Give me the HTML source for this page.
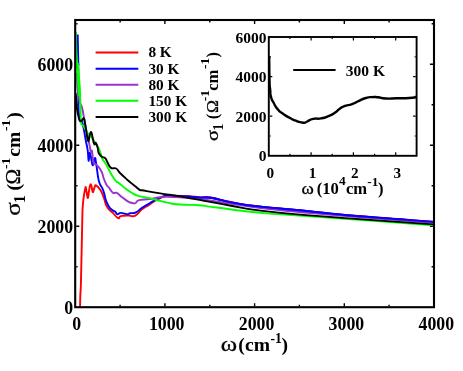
<!DOCTYPE html>
<html><head><meta charset="utf-8"><title>chart</title>
<style>
html,body{margin:0;padding:0;background:#fff;}
body{width:463px;height:371px;overflow:hidden;position:relative;font-family:"Liberation Serif",serif;}
text{font-family:"Liberation Serif",serif;fill:#000;}
.b{font-weight:bold;}
.g{font-weight:normal;stroke:#000;stroke-width:0.3px;}
</style></head><body>
<svg width="463" height="371" viewBox="0 0 463 371" style="position:absolute;left:0;top:0;will-change:transform">
<rect width="463" height="371" fill="#fff"/>
<defs><clipPath id="c"><rect x="75.2" y="20.0" width="358.8" height="287.2"/></clipPath></defs>
<path d="M120.1,306.2v-1.4 M120.1,21.0v1.4 M164.9,306.2v-3.0 M164.9,21.0v3.0 M209.8,306.2v-1.4 M209.8,21.0v1.4 M254.6,306.2v-3.0 M254.6,21.0v3.0 M299.4,306.2v-1.4 M299.4,21.0v1.4 M344.3,306.2v-3.0 M344.3,21.0v3.0 M389.1,306.2v-1.4 M389.1,21.0v1.4 M76.2,266.7h1.4 M433.0,266.7h-1.4 M76.2,226.2h3.1 M433.0,226.2h-3.1 M76.2,185.8h1.4 M433.0,185.8h-1.4 M76.2,145.3h3.1 M433.0,145.3h-3.1 M76.2,104.8h1.4 M433.0,104.8h-1.4 M76.2,64.3h3.1 M433.0,64.3h-3.1 M76.2,23.8h1.4 M433.0,23.8h-1.4" stroke="#000" stroke-width="1.4" fill="none"/>
<g fill="none" stroke-width="1.9" stroke-linejoin="round" clip-path="url(#c)">
<path stroke="#ff0000" d="M80.0,309.0C80.1,306.0 80.1,302.8 80.3,296.0C80.5,289.2 80.6,296.8 81.0,280.0C81.4,263.2 81.8,241.0 82.2,224.0C82.6,207.0 82.3,213.4 82.7,207.0C83.1,200.6 83.2,201.1 83.8,196.7C84.4,192.3 84.8,190.4 85.3,188.3C85.8,186.2 85.6,186.8 85.9,187.7C86.2,188.6 86.1,189.6 86.6,192.0C87.1,194.4 87.3,198.2 87.9,198.0C88.5,197.8 88.4,194.0 89.0,191.0C89.6,188.0 89.7,186.2 90.3,185.0C90.9,183.8 90.9,184.3 91.5,186.0C92.1,187.7 92.1,191.8 92.8,192.2C93.5,192.5 93.7,189.1 94.5,187.5C95.3,185.9 94.7,184.6 96.1,185.3C97.5,186.0 98.8,187.3 100.6,190.3C102.4,193.3 102.4,194.1 103.9,198.0C105.4,201.9 105.1,203.8 107.1,207.1C109.1,210.4 109.7,209.7 112.3,212.3C114.9,214.9 116.1,217.2 118.1,218.1C120.1,219.0 118.4,216.8 120.7,216.2C123.0,215.6 125.6,215.6 127.8,215.5C130.0,215.4 128.2,215.8 130.0,215.8C131.8,215.8 132.5,217.1 135.3,215.6C138.1,214.1 138.8,211.8 142.0,209.3C145.2,206.8 145.8,207.1 149.0,205.0C152.2,202.9 152.0,202.6 155.7,200.5C159.4,198.4 161.6,197.1 164.8,196.0C168.0,194.9 164.0,195.8 169.3,195.8C174.6,195.8 180.5,195.8 187.5,196.2C194.5,196.5 194.1,197.0 199.5,197.3C204.9,197.6 203.7,196.4 210.7,197.5C217.7,198.6 221.2,200.1 229.7,201.8C238.2,203.6 237.7,203.7 247.0,205.0C256.3,206.3 257.3,206.2 269.4,207.4C281.5,208.6 280.2,208.3 298.9,210.1C317.6,211.9 318.1,212.6 349.4,215.3C380.7,218.0 413.5,220.2 433.0,221.7"/>
<path stroke="#0000ff" d="M77.7,34.5C77.8,38.1 77.9,43.1 78.0,50.0C78.1,56.9 78.2,54.2 78.3,64.0C78.4,73.8 78.1,79.4 78.3,92.0C78.5,104.6 78.3,110.8 79.3,118.0C80.3,125.2 80.9,117.9 82.4,123.0C83.9,128.1 84.5,133.6 85.7,140.0C86.9,146.4 87.0,145.6 87.7,150.4C88.4,155.2 88.2,160.1 88.6,160.7C89.0,161.3 89.1,153.9 89.6,153.0C90.1,152.1 90.2,153.9 90.9,156.8C91.6,159.7 91.9,165.0 92.8,165.3C93.7,165.6 94.0,158.6 94.8,158.1C95.6,157.6 95.5,160.0 96.1,163.3C96.7,166.6 96.7,167.9 97.4,172.4C98.1,176.9 97.9,178.3 99.3,182.5C100.7,186.7 101.5,185.8 103.2,190.3C104.9,194.8 104.8,197.7 106.5,201.9C108.2,206.1 108.3,206.1 110.3,208.4C112.3,210.7 113.2,210.2 114.9,211.6C116.6,213.0 116.1,213.9 117.5,214.2C118.9,214.5 118.3,212.9 120.7,212.9C123.1,212.9 125.6,214.1 127.8,214.2C130.0,214.3 128.1,213.6 130.0,213.2C131.9,212.8 133.2,213.6 136.0,212.3C138.8,211.0 138.9,209.9 142.1,207.8C145.3,205.7 146.2,205.3 149.7,203.2C153.2,201.1 153.7,200.7 157.2,199.0C160.7,197.3 162.0,196.7 164.8,196.0C167.6,195.3 164.0,195.9 169.3,196.0C174.6,196.1 182.2,196.2 187.5,196.4C192.8,196.6 189.2,196.6 192.0,196.9C194.8,197.2 195.1,197.4 199.5,197.6C203.9,197.8 203.7,196.8 210.7,197.8C217.7,198.9 221.2,200.4 229.7,202.1C238.2,203.8 237.7,203.9 247.0,205.2C256.3,206.5 257.3,206.4 269.4,207.6C281.5,208.8 280.2,208.5 298.9,210.3C317.6,212.1 318.1,212.8 349.4,215.5C380.7,218.2 413.5,220.4 433.0,221.9"/>
<path stroke="#9a32cd" d="M77.1,73.0C77.2,76.3 77.0,80.7 77.5,87.0C78.0,93.3 78.4,95.6 79.3,100.0C80.2,104.4 80.6,103.2 81.5,106.0C82.4,108.8 82.2,107.8 83.0,112.0C83.8,116.2 83.6,116.9 85.0,124.0C86.4,131.1 87.6,136.0 89.0,142.6C90.4,149.2 90.3,150.3 91.0,152.3C91.7,154.3 91.4,148.6 92.0,151.0C92.6,153.4 92.7,159.7 93.5,162.7C94.3,165.7 94.0,162.8 95.4,164.0C96.8,165.2 97.8,165.9 99.3,167.9C100.8,169.9 100.8,169.8 101.9,172.4C103.0,175.0 102.8,176.0 103.9,178.9C105.0,181.8 105.3,182.6 106.5,184.7C107.7,186.8 107.5,185.8 109.0,187.7C110.5,189.6 111.1,191.6 112.9,192.8C114.7,194.0 114.8,191.9 116.8,192.8C118.8,193.7 118.8,194.7 121.4,196.7C124.0,198.7 125.1,199.8 127.8,201.3C130.5,202.8 131.2,202.8 133.0,203.2C134.8,203.6 134.2,203.7 135.6,203.0C137.0,202.3 135.8,201.1 139.1,200.2C142.4,199.3 144.8,199.7 149.7,199.0C154.6,198.3 156.0,197.7 160.2,197.2C164.4,196.7 163.2,196.9 167.8,196.9C172.4,196.9 174.6,196.9 179.9,197.2C185.2,197.5 185.9,197.8 190.5,198.2C195.1,198.6 190.4,197.8 199.5,199.0C208.6,200.2 213.4,201.2 229.7,203.5C246.0,205.8 241.5,206.0 269.4,209.0C297.3,212.0 311.2,213.2 349.4,216.4C387.6,219.6 413.5,221.4 433.0,222.9"/>
<polyline stroke="#0000ff" points="187.5,196.4 192.0,196.9 199.5,197.6 210.7,197.8 229.7,202.1 247.0,205.2 269.4,207.6 298.9,210.3 349.4,215.5 433.0,221.9"/>
<polyline stroke="#00ff00" stroke-width="3.2" points="77.3,63 78.5,80 79.6,96"/>
<path stroke="#00ff00" d="M75.8,32.0C75.9,36.2 76.1,43.5 76.3,50.0C76.5,56.5 76.4,56.0 76.8,60.0C77.2,64.0 77.4,62.3 77.9,67.0C78.4,71.7 78.4,73.7 78.9,80.0C79.4,86.3 79.5,87.0 79.9,94.0C80.3,101.0 80.3,103.2 80.6,110.0C80.9,116.8 80.3,119.3 81.0,123.0C81.7,126.7 81.8,123.4 83.5,126.0C85.2,128.6 86.2,131.2 88.2,134.0C90.2,136.8 90.0,135.4 92.0,138.0C94.0,140.6 95.2,142.9 96.6,145.0C98.0,147.1 97.1,145.2 98.0,147.0C98.9,148.8 99.6,150.2 100.5,152.8C101.4,155.4 100.5,154.9 102.0,158.0C103.5,161.1 104.9,162.3 107.0,166.0C109.1,169.7 108.9,170.1 111.0,173.7C113.1,177.3 114.4,179.4 116.2,181.5C118.0,183.6 116.7,181.3 118.8,182.9C120.9,184.5 122.2,186.0 125.2,188.3C128.2,190.6 128.8,191.1 131.7,192.8C134.6,194.5 133.8,194.5 137.6,195.7C141.4,196.9 142.8,196.7 148.1,197.9C153.4,199.1 154.6,199.5 160.2,200.9C165.8,202.3 166.7,202.8 172.3,203.7C177.9,204.6 178.1,204.3 184.4,204.7C190.7,205.0 194.2,204.8 199.5,205.2C204.8,205.6 201.5,205.6 207.3,206.4C213.1,207.2 216.4,207.5 224.5,208.5C232.6,209.5 231.3,209.6 241.8,210.8C252.3,212.0 256.1,212.5 269.4,213.6C282.7,214.7 282.9,214.4 298.9,215.5C314.9,216.6 306.5,216.0 337.8,218.3C369.1,220.6 410.8,223.6 433.0,225.2"/>
<path stroke="#000" d="M75.6,93.0C75.7,94.3 75.8,94.5 76.2,98.5C76.6,102.5 76.6,105.7 77.2,110.0C77.8,114.3 78.0,114.5 78.6,117.0C79.2,119.5 79.1,119.7 79.8,120.5C80.5,121.3 80.5,121.1 81.5,120.6C82.5,120.1 83.1,117.6 83.9,118.2C84.7,118.8 84.4,119.6 85.0,123.0C85.6,126.4 85.8,128.5 86.5,132.7C87.2,136.9 87.5,140.3 88.2,141.1C88.9,141.9 88.8,138.1 89.5,136.0C90.2,133.9 90.5,131.6 91.2,132.0C91.9,132.4 92.0,135.0 92.7,137.9C93.4,140.8 93.5,143.1 94.3,144.3C95.1,145.5 95.2,141.9 96.0,143.0C96.8,144.1 97.3,146.6 97.9,148.9C98.5,151.2 97.8,151.2 98.7,153.0C99.6,154.8 100.4,155.6 101.9,156.8C103.4,158.0 103.8,156.7 105.2,158.1C106.6,159.5 106.3,160.4 107.7,162.7C109.1,165.0 109.0,166.5 111.0,167.9C113.0,169.3 114.1,167.3 116.2,168.5C118.3,169.7 117.3,170.3 120.0,173.0C122.7,175.7 124.8,177.5 127.8,180.2C130.8,182.9 130.5,182.4 133.0,184.4C135.5,186.4 136.7,187.5 138.3,188.8C139.9,190.1 139.0,189.6 139.8,189.9C140.6,190.2 137.0,189.5 141.8,190.3C146.6,191.1 151.3,192.0 160.2,193.4C169.1,194.8 170.7,194.9 179.9,196.4C189.1,197.9 187.9,197.8 199.5,199.9C211.1,202.0 213.4,202.8 229.7,205.5C246.0,208.2 241.5,208.6 269.4,211.6C297.3,214.6 311.2,215.4 349.4,218.4C387.6,221.4 413.5,223.0 433.0,224.4"/>
</g>
<rect x="75.2" y="20.0" width="358.8" height="287.2" fill="none" stroke="#000" stroke-width="2.1"/>
<line x1="95.6" x2="138.3" y1="52.55" y2="52.55" stroke="#ff0000" stroke-width="2.0"/>
<text x="148.4" y="57.3" font-size="15.3" class="b">8 K</text>
<line x1="95.6" x2="138.3" y1="68.65" y2="68.65" stroke="#0000ff" stroke-width="2.0"/>
<text x="148.4" y="73.5" font-size="15.3" class="b">30 K</text>
<line x1="95.6" x2="138.3" y1="84.85" y2="84.85" stroke="#9a32cd" stroke-width="2.0"/>
<text x="148.4" y="89.6" font-size="15.3" class="b">80 K</text>
<line x1="95.6" x2="138.3" y1="100.7" y2="100.7" stroke="#00ff00" stroke-width="2.0"/>
<text x="148.4" y="105.5" font-size="15.3" class="b">150 K</text>
<line x1="95.6" x2="138.3" y1="117.05" y2="117.05" stroke="#000" stroke-width="2.0"/>
<text x="148.4" y="121.8" font-size="15.3" class="b">300 K</text>
<text x="76.8" y="330.4" font-size="17.8" class="b" text-anchor="middle">0</text>
<text x="166.7" y="330.4" font-size="17.8" class="b" text-anchor="middle">1000</text>
<text x="256.6" y="330.4" font-size="17.8" class="b" text-anchor="middle">2000</text>
<text x="346.4" y="330.4" font-size="17.8" class="b" text-anchor="middle">3000</text>
<text x="436.3" y="330.4" font-size="17.8" class="b" text-anchor="middle">4000</text>
<text x="73.1" y="313.8" font-size="17.8" class="b" text-anchor="end">0</text>
<text x="73.1" y="232.8" font-size="17.8" class="b" text-anchor="end">2000</text>
<text x="73.1" y="151.9" font-size="17.8" class="b" text-anchor="end">4000</text>
<text x="73.1" y="70.9" font-size="17.8" class="b" text-anchor="end">6000</text>
<g transform="translate(0,351.4)"><text transform="translate(220.70,0.00) scale(1.24,1)" font-size="20" class="g">ω</text><text x="238.30" y="0.00" font-size="19.6" class="b">(</text><text x="245.10" y="0.00" font-size="19.6" class="b">cm</text><text x="270.40" y="-8.40" font-size="13.6" class="b">-1</text><text x="281.40" y="0.00" font-size="19.6" class="b">)</text></g>
<g transform="translate(20,215) rotate(-90)"><text transform="translate(-0.80,0.00) scale(1.25,1)" font-size="20" class="g">σ</text><text x="12.00" y="5.10" font-size="15.8" class="b">1</text><text x="24.50" y="0.00" font-size="19.6" class="b">(</text><text x="30.50" y="0.00" font-size="21" class="g">Ω</text><text x="46.10" y="-9.80" font-size="13.4" class="b">-1</text><text x="58.30" y="0.00" font-size="19.6" class="b">cm</text><text x="84.00" y="-9.80" font-size="13.4" class="b">-1</text><text x="96.20" y="0.00" font-size="19.6" class="b">)</text></g>
<rect x="268.8" y="37.0" width="147.8" height="118.80000000000001" fill="#fff" stroke="#000" stroke-width="1.9"/>
<path fill="none" stroke="#000" stroke-width="2.4" stroke-linejoin="round" d="M269.2,56.0C269.3,64.0 269.2,68.7 269.5,80.0C269.8,91.3 269.7,84.5 270.2,90.0C270.7,95.5 269.8,92.2 270.9,96.4C272.0,100.6 271.2,98.2 273.5,102.5C275.8,106.8 274.6,105.7 277.8,109.4C281.0,113.1 279.0,110.8 283.0,113.7C287.0,116.6 285.3,115.5 289.9,118.0C294.5,120.5 292.2,119.5 296.8,121.1C301.4,122.7 300.2,122.6 303.7,122.7C307.2,122.8 304.0,122.8 307.2,121.5C310.4,120.2 308.6,119.9 313.2,118.9C317.8,117.9 316.1,119.3 321.0,118.4C325.9,117.5 323.3,118.2 327.9,116.3C332.5,114.4 330.8,115.4 334.8,112.8C338.8,110.2 336.5,110.8 340.0,108.5C343.5,106.2 341.2,107.3 345.2,105.9C349.2,104.5 347.5,105.9 352.1,104.2C356.7,102.5 354.4,102.9 359.0,100.8C363.6,98.7 361.6,99.2 365.9,98.0C370.2,96.8 368.0,97.3 372.0,97.1C376.0,96.9 373.4,96.8 378.0,97.3C382.6,97.8 379.5,98.2 385.8,98.5C392.1,98.8 389.2,98.5 397.0,98.3C404.8,98.1 402.8,98.3 409.1,98.0C415.4,97.7 413.7,97.5 416.0,97.3"/>
<path d="M289.9,154.9v-1.1 M289.9,37.9v1.1 M311.1,154.9v-2.7 M311.1,37.9v2.7 M332.2,154.9v-1.1 M332.2,37.9v1.1 M353.4,154.9v-2.7 M353.4,37.9v2.7 M374.6,154.9v-1.1 M374.6,37.9v1.1 M395.7,154.9v-2.7 M395.7,37.9v2.7 M269.7,136.0h1.1 M415.70000000000005,136.0h-1.1 M269.7,116.2h2.6 M415.70000000000005,116.2h-2.6 M269.7,96.4h1.1 M415.70000000000005,96.4h-1.1 M269.7,76.6h2.6 M415.70000000000005,76.6h-2.6 M269.7,56.8h1.1 M415.70000000000005,56.8h-1.1" stroke="#000" stroke-width="1.2" fill="none"/>
<text x="266.6" y="161.3" font-size="15.5" class="b" text-anchor="end">0</text>
<text x="266.6" y="121.7" font-size="15.5" class="b" text-anchor="end">2000</text>
<text x="266.6" y="82.1" font-size="15.5" class="b" text-anchor="end">4000</text>
<text x="266.6" y="42.5" font-size="15.5" class="b" text-anchor="end">6000</text>
<text x="270.3" y="177.6" font-size="15.2" class="b" text-anchor="middle">0</text>
<text x="312.6" y="177.6" font-size="15.2" class="b" text-anchor="middle">1</text>
<text x="354.9" y="177.6" font-size="15.2" class="b" text-anchor="middle">2</text>
<text x="397.2" y="177.6" font-size="15.2" class="b" text-anchor="middle">3</text>
<line x1="293.2" x2="335.6" y1="69.9" y2="69.9" stroke="#000" stroke-width="2.0"/>
<text x="345.8" y="75.8" font-size="15.5" class="b">300 K</text>
<g transform="translate(0,194.0)"><text transform="translate(301.60,0.00) scale(1.13,1)" font-size="16.6" class="g">ω</text><text x="316.70" y="0.00" font-size="16.6" class="b">(</text><text x="322.30" y="0.00" font-size="16.6" class="b">10</text><text x="338.90" y="-8.70" font-size="13.4" class="b">4</text><text x="346.00" y="0.00" font-size="16.6" class="b">cm</text><text x="367.20" y="-8.30" font-size="13.4" class="b">-1</text><text x="378.00" y="0.00" font-size="16.6" class="b">)</text></g>
<g transform="translate(217.8,140.2) rotate(-90)"><text transform="translate(-0.80,0.00) scale(1.22,1)" font-size="16.6" class="g">σ</text><text x="9.80" y="5.00" font-size="13.8" class="b">1</text><text x="20.90" y="0.00" font-size="16.6" class="b">(</text><text x="27.20" y="0.00" font-size="17.4" class="g">Ω</text><text x="39.00" y="-8.50" font-size="13.4" class="b">-1</text><text x="49.40" y="0.00" font-size="16.6" class="b">cm</text><text x="71.30" y="-8.50" font-size="13.4" class="b">-1</text><text x="82.80" y="0.00" font-size="16.6" class="b">)</text></g>
</svg>
</body></html>
